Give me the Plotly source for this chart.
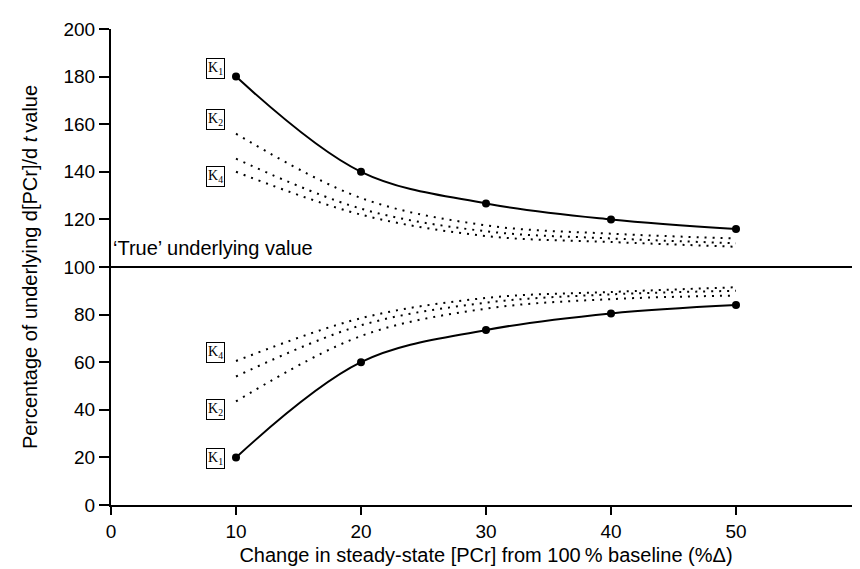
import plotly.graph_objects as go

x_vals = [10, 20, 30, 40, 50]

# Solid K1 curves (with data points)
k1_upper = [180, 140, 126.7, 120, 116]
k1_lower = [20, 60, 73.5, 80.5, 84]

# Dotted curves
k2_upper = [156, 129, 117.5, 114, 112]
k3_upper = [145.5, 124.5, 115, 112, 110]
k4_upper = [140, 122, 113, 110.5, 108.5]
k2_lower = [43.5, 71, 82.5, 86.5, 88]
k3_lower = [54, 75.5, 85, 88.5, 90]
k4_lower = [60.5, 78.5, 87, 89.5, 91.5]

true_value = 100
x_range = [0, 60]
y_range = [0, 200]

# Box labels
label_text = ["K<sub>1</sub>", "K<sub>2</sub>", "K<sub>4</sub>", "K<sub>4</sub>", "K<sub>2</sub>", "K<sub>1</sub>"]
label_x = [8.35, 8.35, 8.35, 8.35, 8.35, 8.35]
label_y = [183.5, 162, 138, 64, 40.3, 19.5]

fig = go.Figure()

dot_style = dict(color="black", width=2, dash="2px,6px")
for ys in [k2_upper, k3_upper, k4_upper, k2_lower, k3_lower, k4_lower]:
    fig.add_trace(go.Scatter(x=x_vals, y=ys, mode="lines",
                             line=dict(shape="spline", smoothing=1.0, **dot_style),
                             showlegend=False, hoverinfo="skip"))

for ys in [k1_upper, k1_lower]:
    fig.add_trace(go.Scatter(x=x_vals, y=ys, mode="lines+markers",
                             line=dict(color="black", width=2, shape="spline", smoothing=1.0),
                             marker=dict(color="black", size=8),
                             showlegend=False))

# 'True' underlying value line
fig.add_trace(go.Scatter(x=x_range, y=[true_value, true_value], mode="lines",
                         line=dict(color="black", width=2), showlegend=False))

for t, lx, ly in zip(label_text, label_x, label_y):
    fig.add_annotation(x=lx, y=ly, text=t, showarrow=False,
                       font=dict(family="Liberation Serif", size=14, color="black"),
                       bordercolor="black", borderwidth=1, borderpad=1,
                       bgcolor="white")

fig.add_annotation(x=0.0, y=true_value, xanchor="left", yanchor="middle", yshift=19,
                   text="‘True’ underlying value", showarrow=False,
                   font=dict(family="Liberation Sans", size=20, color="black"))

axis_font = dict(family="Liberation Sans", size=19, color="black")
title_font = dict(family="Liberation Sans", size=20, color="black")
fig.update_layout(
    width=860, height=569,
    margin=dict(l=103, r=7, t=21, b=72),
    plot_bgcolor="white", paper_bgcolor="white",
    font=axis_font,
    xaxis=dict(range=x_range, tickvals=[0, 10, 20, 30, 40, 50, 60],
               showgrid=False, zeroline=False, showline=True, linecolor="black", linewidth=2,
               ticks="outside", ticklen=8, tickwidth=1.5, tickcolor="black",
               title=dict(text="Change in steady-state [PCr] from 100\u2009% baseline (%Δ)",
                          standoff=7, font=title_font),
               tickfont=axis_font),
    yaxis=dict(range=y_range, tickvals=list(range(0, 201, 20)),
               showgrid=False, zeroline=False, showline=True, linecolor="black", linewidth=2,
               ticks="outside", ticklen=10, tickwidth=1.5, tickcolor="black",
               title=dict(text="Percentage of underlying d[PCr]/d <i>t</i>\u2009value",
                          standoff=20, font=title_font),
               tickfont=axis_font),
)

fig.write_html("out.html")
